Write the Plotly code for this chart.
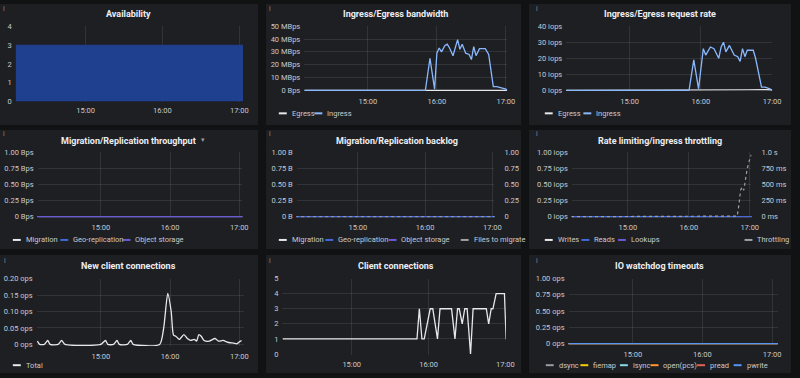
import plotly.graph_objects as go

DAY = "2024-01-01 "

# ---------------- data ----------------
tick_times = ["15:00", "16:00", "17:00"]
tick_labels = ["15:00", "16:00", "17:00"]

avail_times = ["14:05", "15:00", "16:00", "17:03"]
avail_values = [3, 3, 3, 3]

bw_names = ["Egress", "Ingress"]
bw_in_times = ["14:05", "15:50", "15:54", "15:58", "16:00", "16:02", "16:04", "16:07", "16:09",
               "16:11", "16:14", "16:16", "16:18", "16:20", "16:22", "16:25", "16:28", "16:30",
               "16:32", "16:34", "16:37", "16:42", "16:45", "16:49", "16:52", "16:56", "17:00", "17:01"]
bw_ingress = [0, 0, 25, 1, 29, 33, 30, 35, 36, 33, 27, 33, 39.5, 32, 36, 29, 28, 24,
              34, 27, 32.5, 32.5, 28, 3, 3, 2, 1, 0]
bw_out_times = ["14:05", "15:50", "16:00", "16:30", "16:50", "17:01"]
bw_egress = [0, 0, 0.2, 0.3, 0.2, 0]

rq_names = ["Egress", "Ingress"]
rq_in_times = ["14:06", "15:50", "15:54", "15:58", "16:02", "16:04", "16:08", "16:11", "16:15",
               "16:17", "16:19", "16:21", "16:24", "16:28", "16:31", "16:33", "16:35", "16:37",
               "16:39", "16:44", "16:46", "16:51", "16:54", "16:58", "17:00"]
rq_ingress = [0, 0, 19, 1, 26, 22, 27, 26, 20, 27, 30, 24, 28, 22, 21, 18, 26, 21,
              25, 25, 20, 2, 2, 1, 0]
rq_out_times = ["14:06", "15:50", "16:00", "16:40", "16:55", "17:00"]
rq_egress = [0, 0, 0.2, 0.4, 0.5, 0.3]

flat_times = ["14:04", "15:00", "16:00", "17:05"]
flat_zero = [0, 0, 0, 0]

mig_names = ["Migration", "Geo-replication", "Object storage"]
backlog_names = ["Migration", "Geo-replication", "Object storage", "Files to migrate"]
rate_names = ["Writes", "Reads", "Lookups", "Throttling"]

throttle_times = ["14:04", "16:47:40", "16:49:25", "16:51:00", "16:52:35", "16:54:10",
                  "16:55:10", "16:57:30", "17:00:00", "17:01:40"]
throttle_s = [0, 0.01, 0.19, 0.41, 0.46, 0.41, 0.51, 0.74, 0.89, 0.96]

ncc_names = ["Total"]
ncc_times = ["14:05", "14:07", "14:11", "14:14", "14:16", "14:23", "14:26", "14:29", "15:00",
             "15:04", "15:06", "15:11", "15:14", "15:16", "15:23", "15:26", "15:28", "15:51",
             "15:54:30", "15:58", "16:01", "16:03", "16:05", "16:08", "16:12", "16:15", "16:18",
             "16:21", "16:23", "16:25", "16:27", "16:29:30", "16:34", "16:39", "16:42", "16:46",
             "16:49", "16:52", "16:55", "16:58", "17:01", "17:02"]
ncc_values = [0.01, 0, 0, 0.012, 0, 0, 0.012, 0, 0,
              0.012, 0, 0, 0.012, 0, 0, 0.012, 0, 0,
              0.05, 0.155, 0.1, 0.028, 0.025, 0.015, 0.03, 0.018, 0.012,
              0.015, 0.01, 0.03, 0.025, 0.012, 0.01, 0.018, 0.01, 0.012,
              0.008, 0.005, 0.004, 0.002, 0.01, 0.012]

cc_times = ["14:06", "15:51", "15:52:50", "15:54:50", "15:56:40", "16:01:20", "16:03:20", "16:07",
            "16:09", "16:18", "16:20:40", "16:22:40", "16:24", "16:26:20", "16:28:20", "16:30:10",
            "16:32:50", "16:34:50", "16:45:10", "16:47", "16:49", "16:50:20", "16:52:50",
            "16:59:20", "17:00:40", "17:02"]
cc_values = [1, 1, 3, 1, 1, 3, 3, 1, 3, 3, 1, 3, 3, 2, 3, 3, 0, 3, 3, 2, 3, 3, 4, 4, 1, 1]

io_names = ["dsync", "fiemap", "isync", "open(pcs)", "pread", "pwrite"]

# ---------------- style ----------------
W, H = 800, 378
PAPER = "#111214"
PANEL = "#1e1f23"
GRID = "rgba(255,255,255,0.09)"
TXT = "#c7c9cf"
TITLE = "#eceef2"
FONT = "Roboto"
C_WHITE = "#e8e8ea"
C_BLUE_L = "#8ab8ff"
C_GEO = "#3f6ad8"
C_OBJ = "#6a5ad8"
C_GRAY = "#a0a0a4"
C_AVAIL = "#1f3f8f"
IO_COLORS = ["#9a9aa0", "#f2cc0c", "#8ad8e8", "#ff9830", "#e0605a", "#5794f2"]


def T(s):
    return DAY + (s if s.count(":") == 2 else s + ":00")


def px_x(p):
    return p / W


def px_y(p):
    return 1 - p / H


fig = go.Figure()
layout = dict(width=W, height=H, margin=dict(l=0, r=0, t=0, b=0),
              paper_bgcolor=PAPER, plot_bgcolor="rgba(0,0,0,0)",
              font=dict(family=FONT, color=TXT, size=7.5), showlegend=False)
shapes = []
annots = []

tickvals_x = [T(t) for t in tick_times]


def add_axes(n, x0, x1, t0, t1, ytop, ybot, yr, ytv, ytt, xstand=4):
    s = "" if n == 1 else str(n)
    layout["xaxis" + s] = dict(domain=[px_x(x0), px_x(x1)], anchor="y" + s, type="date",
                               range=[T(t0), T(t1)], tickvals=tickvals_x, ticktext=tick_labels,
                               showgrid=True, gridcolor=GRID, gridwidth=1, zeroline=False,
                               showline=False, ticks="", tickfont=dict(size=7.5, color=TXT),
                               ticklabelstandoff=xstand, fixedrange=True)
    layout["yaxis" + s] = dict(domain=[px_y(ybot), px_y(ytop)], anchor="x" + s, range=yr,
                               tickvals=ytv, ticktext=ytt, showgrid=True, gridcolor=GRID,
                               zeroline=False, showline=False, ticks="",
                               tickfont=dict(size=7.5, color=TXT), ticklabelstandoff=3,
                               fixedrange=True)


def add_right_axis(n, over, yr, ytv, ytt):
    layout["yaxis" + str(n)] = dict(overlaying="y" + str(over), side="right", range=yr,
                                    tickvals=ytv, ticktext=ytt, showgrid=False, zeroline=False,
                                    ticks="", tickfont=dict(size=7.5, color=TXT),
                                    ticklabelstandoff=9, anchor="x" + str(over), fixedrange=True)


def line(n, times, vals, color, width=1.3, dash=None, shape="linear", yax=None, fill=None,
         fillcolor=None, smoothing=None):
    s = "" if n == 1 else str(n)
    ld = dict(color=color, width=width, dash=dash, shape=shape)
    if smoothing is not None:
        ld["smoothing"] = smoothing
    fig.add_trace(go.Scatter(x=[T(t) for t in times], y=vals, mode="lines",
                             xaxis="x" + s, yaxis=yax or ("y" + s), line=ld,
                             fill=fill, fillcolor=fillcolor, hoverinfo="skip"))


def panel(x0, y0, x1, y1):
    shapes.append(dict(type="rect", xref="paper", yref="paper", x0=px_x(x0), x1=px_x(x1),
                       y0=px_y(y1), y1=px_y(y0), fillcolor=PANEL, line=dict(width=0),
                       layer="below"))


def title(text, cx, cy, ix, iy):
    annots.append(dict(text="<b>" + text + "</b>", x=px_x(cx), y=px_y(cy), xref="paper",
                       yref="paper", showarrow=False, xanchor="center", yanchor="middle",
                       font=dict(size=9, color=TITLE, family=FONT)))
    annots.append(dict(text="i", x=px_x(ix), y=px_y(iy), xref="paper", yref="paper",
                       showarrow=False, xanchor="center", yanchor="middle",
                       font=dict(size=7, color="#8a8c92", family=FONT)))


def legend(items, y):
    for xpos, name, color in items:
        shapes.append(dict(type="line", xref="paper", yref="paper", x0=px_x(xpos),
                           x1=px_x(xpos + 8), y0=px_y(y), y1=px_y(y),
                           line=dict(color=color, width=2)))
        annots.append(dict(text=name, x=px_x(xpos + 11), y=px_y(y), xref="paper", yref="paper",
                           showarrow=False, xanchor="left", yanchor="middle",
                           font=dict(size=7.5, color=TXT, family=FONT)))


# panel backgrounds
cols = [(0, 261), (269, 527), (535, 800)]
rows = [(0, 124), (129, 251), (257, 378)]
for r in rows:
    for c in cols:
        panel(c[0], r[0], c[1], r[1])

# ---- P1 Availability
add_axes(1, 16, 246, "14:05:30", "17:03:06", 23, 100, [0, 4], [0, 1, 2, 3, 4],
         ["0", "1", "2", "3", "4"], xstand=3)
line(1, avail_times, avail_values, C_AVAIL, width=1, fill="tozeroy", fillcolor=C_AVAIL)
title("Availability", 130, 10, 4, 5)

# ---- P2 bandwidth
add_axes(2, 307.7, 513, "14:04:48", "17:01:06", 22.7, 89.3, [-0.6, 50],
         [0, 10, 20, 30, 40, 50], ["0 Bps", "10 MBps", "20 MBps", "30 MBps", "40 MBps", "50 MBps"])
line(2, bw_out_times, bw_egress, C_WHITE, width=1.2)
line(2, bw_in_times, bw_ingress, C_BLUE_L, width=1.3)
title("Ingress/Egress bandwidth", 400, 10, 273, 5)
legend([(282, bw_names[0], C_WHITE), (318, bw_names[1], C_BLUE_L)], 112)

# ---- P3 request rate
add_axes(3, 572.7, 781, "14:06:40", "17:00:00", 22.7, 89.3, [-0.5, 40],
         [0, 10, 20, 30, 40], ["0 iops", "10 iops", "20 iops", "30 iops", "40 iops"])
line(3, rq_out_times, rq_egress, C_WHITE, width=1.2)
line(3, rq_in_times, rq_ingress, C_BLUE_L, width=1.3)
title("Ingress/Egress request rate", 668, 10, 543, 5)
legend([(551, rq_names[0], C_WHITE), (590, rq_names[1], C_BLUE_L)], 112)

# ---- P4 migration throughput
add_axes(4, 38, 245, "14:05:06", "17:02:36", 151.7, 218.7, [-0.012, 1],
         [0, 0.25, 0.5, 0.75, 1], ["0 Bps", "0.25 Bps", "0.50 Bps", "0.75 Bps", "1.00 Bps"])
line(4, flat_times, flat_zero, C_WHITE)
line(4, flat_times, flat_zero, C_GEO)
line(4, flat_times, flat_zero, C_OBJ)
title("Migration/Replication throughput", 130, 140, 4, 133)
annots.append(dict(text="▾", x=px_x(201), y=px_y(139), xref="paper", yref="paper",
                   showarrow=False, font=dict(size=7, color="#9a9ca2")))
legend([(13, mig_names[0], C_WHITE), (61, mig_names[1], C_GEO), (124, mig_names[2], C_OBJ)],
       241.7)

# ---- P5 backlog
add_axes(5, 300, 500, "14:05:18", "17:01:48", 151.7, 218.7, [-0.012, 1],
         [0, 0.25, 0.5, 0.75, 1], ["0 B", "0.25 B", "0.50 B", "0.75 B", "1.00 B"])
add_right_axis(10, 5, [-0.012, 1], [0, 0.25, 0.5, 0.75, 1], ["0", "0.25", "0.50", "0.75", "1.00"])
line(5, flat_times, flat_zero, C_WHITE)
line(5, flat_times, flat_zero, C_GEO)
line(5, flat_times, flat_zero, C_OBJ, dash="dot")
line(5, flat_times, flat_zero, C_GRAY, dash="dot", yax="y10", width=1)
title("Migration/Replication backlog", 401.7, 140, 273, 133)
legend([(282, backlog_names[0], C_WHITE), (329, backlog_names[1], C_GEO),
        (393, backlog_names[2], C_OBJ), (466, backlog_names[3], C_GRAY)], 241.7)

# ---- P6 rate limiting
add_axes(6, 578.3, 760, "14:04:48", "17:01:42", 151.7, 218.7, [-0.012, 1],
         [0, 0.25, 0.5, 0.75, 1], ["0 iops", "0.25 iops", "0.50 iops", "0.75 iops", "1.00 iops"])
add_right_axis(11, 6, [-0.012, 1], [0, 0.25, 0.5, 0.75, 1],
               ["0 ms", "250 ms", "500 ms", "750 ms", "1.0 s"])
line(6, flat_times, flat_zero, C_WHITE)
line(6, flat_times, flat_zero, C_GEO)
line(6, flat_times, flat_zero, C_OBJ, dash="dot")
line(6, throttle_times, throttle_s, C_GRAY, dash="dot", yax="y11", width=1.2)
title("Rate limiting/ingress throttling", 668, 140, 543, 133)
legend([(551, rate_names[0], C_WHITE), (588, rate_names[1], C_GEO),
        (625, rate_names[2], C_OBJ), (753, rate_names[3], C_GRAY)], 241.7)

# ---- P7 new client connections
add_axes(7, 37, 247, "14:04:18", "17:04:18", 281.3, 350.4, [-0.005, 0.2],
         [0, 0.05, 0.1, 0.15, 0.2], ["0 ops", "0.05 ops", "0.10 ops", "0.15 ops", "0.20 ops"])
line(7, ncc_times, ncc_values, C_WHITE, shape="spline", smoothing=0.6)
title("New client connections", 130, 268.7, 5, 263.7)
legend([(13, ncc_names[0], C_WHITE)], 370)

# ---- P8 client connections
add_axes(8, 285.7, 511.7, "14:05:54", "17:00:30", 281.3, 359.3, [-0.05, 5],
         [0, 1, 2, 3, 4, 5], ["0", "1", "2", "3", "4", "5"])
line(8, cc_times, cc_values, C_WHITE)
title("Client connections", 400, 268.7, 273, 263.7)

# ---- P9 IO watchdog
add_axes(9, 575, 786.7, "14:04:36", "17:05:00", 281.3, 348.7, [-0.012, 1],
         [0, 0.25, 0.5, 0.75, 1], ["0 ops", "0.25 ops", "0.50 ops", "0.75 ops", "1.00 ops"])
for c in IO_COLORS:
    line(9, flat_times, flat_zero, c)
title("IO watchdog timeouts", 666.7, 268.7, 543, 263.7)
legend([(552, io_names[0], IO_COLORS[0]), (587, io_names[1], IO_COLORS[1]),
        (627, io_names[2], IO_COLORS[2]), (658, io_names[3], IO_COLORS[3]),
        (705, io_names[4], IO_COLORS[4]), (742, io_names[5], IO_COLORS[5])], 370)

layout["shapes"] = shapes
layout["annotations"] = annots
fig.update_layout(**layout)
fig.write_html("out.html", config={"displayModeBar": False},
               post_script="document.body.style.margin='0';document.body.style.background='"
                           + PAPER + "';")
